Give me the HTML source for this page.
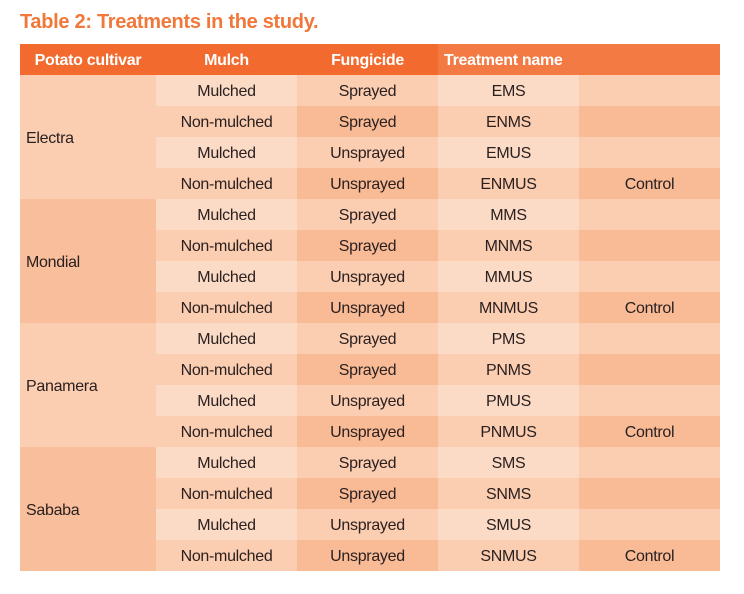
<!DOCTYPE html>
<html><head><meta charset="utf-8"><style>
body{margin:0;width:744px;height:594px;background:#fff;position:relative;overflow:hidden;font-family:"Liberation Sans",sans-serif;}
.t{position:absolute;left:20px;top:11px;font-size:20px;color:#f0783a;font-weight:bold;letter-spacing:-0.3px;}
.c{position:absolute;box-sizing:border-box;display:flex;align-items:center;justify-content:center;font-size:16px;color:#2a2020;letter-spacing:-0.3px;padding-top:3px;}
.h{color:#fff;font-weight:bold;font-size:16px;}
.l{justify-content:flex-start;padding-left:6px;}
</style></head><body>
<div class="t">Table 2: Treatments in the study.</div>
<div id="tb"></div>
<script>
var out='';
function cell(x0,x1,y,h,bg,txt,cls){out+='<div class="c '+(cls||'')+'" style="left:'+x0+'px;top:'+y+'px;width:'+(x1-x0)+'px;height:'+h+'px;background:'+bg+'">'+txt+'</div>';}
cell(20,438,44,31,'#f26a2e','','');
cell(438,720,44,31,'#f37a43','','');
cell(20,156,44,31,'transparent','Potato cultivar','h');
cell(156,297,44,31,'transparent','Mulch','h');
cell(297,438,44,31,'transparent','Fungicide','h');
cell(438,579,44,31,'transparent','Treatment name','h l');
var cv=[['Electra','E'],['Mondial','M'],['Panamera','P'],['Sababa','S']];
var rows=[['Mulched','Sprayed','MS'],['Non-mulched','Sprayed','NMS'],['Mulched','Unsprayed','MUS'],['Non-mulched','Unsprayed','NMUS']];
var light=['#fcdbc6','#fbcdb1','#fcdbc6','#fbcdb1'];
var dark=['#fbcdb1','#f9bb96','#fbcdb1','#f9bb96'];
for(var g=0;g<4;g++){
 var y0=75+g*124;
 cell(20,156,y0,124,g%2?'#f9be9b':'#fbcdb1',cv[g][0],'l');
 for(var r=0;r<4;r++){
  var y=y0+r*31,p=r%2?dark:light;
  cell(156,297,y,31,p[0],rows[r][0]);
  cell(297,438,y,31,p[1],rows[r][1]);
  cell(438,579,y,31,p[2],cv[g][1]+rows[r][2]);
  cell(579,720,y,31,p[3],r==3?'Control':'');
 }
}
document.getElementById('tb').innerHTML=out;
</script>
</body></html>
